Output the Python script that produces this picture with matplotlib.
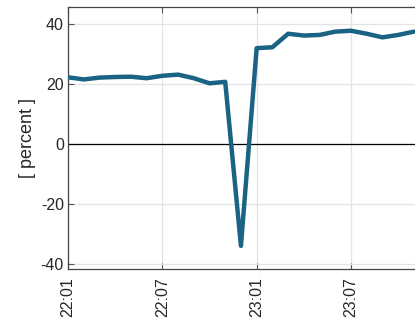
import matplotlib
matplotlib.use("Agg")
import matplotlib.pyplot as plt
import numpy as np

plt.rcParams['font.family'] = ['Liberation Sans', 'DejaVu Sans']

values = [22.3, 21.6, 22.2, 22.4, 22.5, 22.0, 22.8, 23.2, 22.0, 20.3, 20.8,
          -33.8, 32.0, 32.3, 36.8, 36.2, 36.4, 37.5, 37.8, 36.8, 35.6, 36.4, 37.5]
tick_pos = [0, 6, 12, 18]
tick_labels = ['22:01', '22:07', '23:01', '23:07']
y_ticks = [-40, -20, 0, 20, 40]

fig = plt.figure(figsize=(4.15, 3.22), dpi=100)
ax = fig.add_axes([68/415, (322-269)/322, 1.02 - 68/415, (269-7)/322])

x = np.arange(len(values))
ax.plot(x, values, color='#1a6384', lw=3.2, solid_joinstyle='round', solid_capstyle='round', zorder=3)
ax.axhline(0, color='black', lw=0.9, zorder=2)

ax.set_xlim(0, 22.6)
ax.set_ylim(-41.5, 45.7)
ax.set_xticks(tick_pos)
ax.set_xticklabels(tick_labels, rotation=90, fontsize=11.5, color='#262626')
ax.set_yticks(y_ticks)
ax.set_yticklabels([str(v) for v in y_ticks], fontsize=11.5, color='#262626')
ax.set_ylabel('[ percent ]', fontsize=13, color='#262626', labelpad=3)

ax.grid(True, color='#e3e3e3', lw=0.9, zorder=0)
ax.tick_params(direction='in', top=True, right=True, length=4, width=0.8, color='#555555', pad=3)
ax.tick_params(axis='x', pad=6)
for s in ax.spines.values():
    s.set_color('#444444')
    s.set_linewidth(0.9)

fig.savefig('out.png', dpi=100)
